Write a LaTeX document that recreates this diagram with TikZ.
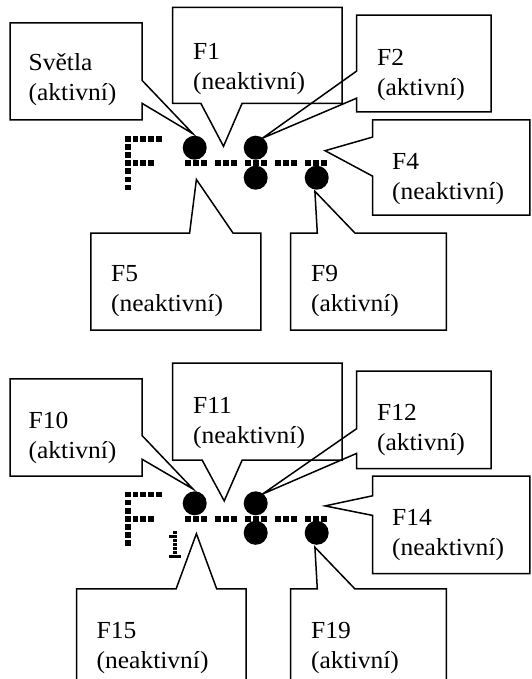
\documentclass[tikz,border=0pt]{standalone}
\usepackage{fontspec}
\setmainfont{Liberation Serif}[FakeStretch=1.04]

\begin{document}
\begin{tikzpicture}[x=1pt, y=-1pt,
            box/.style={draw, line width=1.5pt, line join=miter},
            lbl/.style={anchor=base west, align=left, inner sep=0pt, font=\fontsize{24.5}{30}\selectfont},
            dot/.style={circle, fill=black, inner sep=0pt, minimum size=24pt}]
    \path[use as bounding box, clip] (0,0) rectangle (531,679);

    % pixel glyphs of both displays
    \foreach \dy in {0, 355.5} {
        \foreach \k in {0,...,6}
            \fill (124.7, 136+\dy+8.1*\k) rectangle ++(5.8, 5.8);
        \foreach \j in {1,...,4}
            \fill (124.7+7.8*\j, 136+\dy) rectangle ++(5.8, 5.8);
        \foreach \j in {1,2,3}
            \fill (124.7+7.8*\j, 160.3+\dy) rectangle ++(5.8, 5.8);
        \foreach \g in {196, 226, 256, 286, 316}
            \foreach \s in {-8, 0, 8}
                \fill (\g+\s-2.9, 160.2+\dy) rectangle ++(5.8, 5.8);
    }
    \foreach \k in {0,...,6}
        \fill (173.3, 531+4*\k) rectangle ++(3.3, 3.3);
    \fill (169.3, 535) rectangle ++(3.3, 3.3);
    \fill (169.3, 555) rectangle ++(3.3, 3.3);
    \fill (177.3, 555) rectangle ++(3.3, 3.3);

    \node[dot](d1) at (194.7, 147.7) {};
    \node[dot](d2) at (255.7, 147.7) {};
    \node[dot](d3) at (255.7, 177.7) {};
    \node[dot](d4) at (316.7, 177.7) {};
    \node[dot](e1) at (194.7, 503.3) {};
    \node[dot](e2) at (255.7, 503.3) {};
    \node[dot](e3) at (255.7, 532.8) {};
    \node[dot](e4) at (316.7, 532.8) {};

    \begin{scope}[box]
        \draw (10,23) -- (142,23) -- (142,80.3) -- (193,133.8) -- (142,103.3) -- (142,120) -- (10,120) -- cycle;
        \draw (172.7,7.5) -- (342,7.5) -- (342,103.3) -- (242.1,103.3) -- (223.5,146.3) -- (200.8,103.3) -- (172.7,103.3) -- cycle;
        \draw (356.6,15.2) -- (491,15.2) -- (491,111.8) -- (356.6,111.8) -- (356.6,98.2) -- (262.4,138.2) -- (356.6,71.1) -- cycle;
        \draw (372.5,120) -- (529.8,120) -- (529.8,215) -- (372.5,215) -- (372.5,176.1) -- (325.1,150.7) -- (372.5,137.1) -- cycle;
        \draw (90.8,233) -- (189.6,233) -- (196.4,179.5) -- (233,233) -- (260.8,233) -- (260.8,330.2) -- (90.8,330.2) -- cycle;
        \draw (290.6,233) -- (317.3,233) -- (314.9,191.3) -- (354.9,233) -- (446.3,233) -- (446.3,330.2) -- (290.6,330.2) -- cycle;

        \draw (10,378.9) -- (142,378.9) -- (142,435.5) -- (193,489) -- (142,459.2) -- (142,476.1) -- (10,476.1) -- cycle;
        \draw (172.7,363) -- (342,363) -- (342,460.2) -- (242.1,460.2) -- (224.2,500.9) -- (202.2,460.2) -- (172.7,460.2) -- cycle;
        \draw (356.6,371.2) -- (491,371.2) -- (491,468.7) -- (356.6,468.7) -- (356.6,453.4) -- (262.4,494.1) -- (356.6,428.7) -- cycle;
        \draw (372.5,476.1) -- (529.8,476.1) -- (529.8,573.7) -- (372.5,573.7) -- (372.5,515.4) -- (325.1,505.9) -- (372.5,495.8) -- cycle;
        \draw (76.5,588.9) -- (176.1,588.9) -- (196.4,533.7) -- (216.7,588.9) -- (246,588.9) -- (246,690) -- (76.5,690) -- cycle;
        \draw (290.6,588.9) -- (317.3,588.9) -- (314.9,547.2) -- (354.9,588.9) -- (446.3,588.9) -- (446.3,690) -- (290.6,690) -- cycle;
    \end{scope}

    \node[lbl](sv) at (28.5, 101) {Světla\\(aktivní)};
    \node[lbl](f1) at (193, 89.5) {F1\\(neaktivní)};
    \node[lbl](f2) at (376.9, 95.5) {F2\\(aktivní)};
    \node[lbl](f4) at (392, 199.5) {F4\\(neaktivní)};
    \node[lbl](f5) at (111, 311.5) {F5\\(neaktivní)};
    \node[lbl](f9) at (310.9, 311.5) {F9\\(aktivní)};
    \node[lbl](f10) at (28.5, 458.5) {F10\\(aktivní)};
    \node[lbl](f11) at (193, 443.3) {F11\\(neaktivní)};
    \node[lbl](f12) at (376.9, 450) {F12\\(aktivní)};
    \node[lbl](f14) at (392, 555) {F14\\(neaktivní)};
    \node[lbl](f15) at (96.5, 668.5) {F15\\(neaktivní)};
    \node[lbl](f19) at (310.9, 668.5) {F19\\(aktivní)};
\end{tikzpicture}
\end{document}
